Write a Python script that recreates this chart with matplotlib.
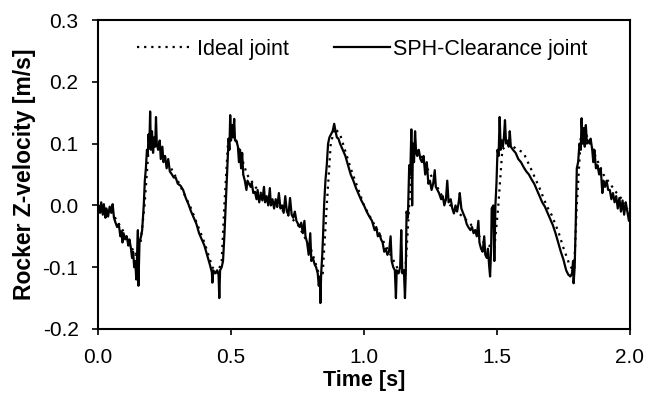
import matplotlib
matplotlib.use("Agg")
import matplotlib.pyplot as plt

plt.rcParams['font.family'] = ['Liberation Sans', 'DejaVu Sans']

# Ideal joint (smooth) time and velocity
ideal_t = [0.0, 0.05, 0.1, 0.14, 0.16, 0.175, 0.19, 0.2, 0.22, 0.25, 0.3, 0.35, 0.4, 0.43, 0.45,
           0.465, 0.475, 0.49, 0.5, 0.52, 0.56, 0.6, 0.65, 0.7, 0.75, 0.8, 0.83, 0.845, 0.86,
           0.875, 0.89, 0.91, 0.95, 1.0, 1.05, 1.1, 1.13, 1.155, 1.17, 1.185, 1.2, 1.25, 1.3,
           1.35, 1.4, 1.45, 1.49, 1.505, 1.52, 1.54, 1.6, 1.63, 1.66, 1.686, 1.706, 1.731,
           1.75, 1.775, 1.79, 1.8, 1.815, 1.83, 1.85, 1.9, 1.95, 2.0]
ideal_v = [0.0, -0.01, -0.045, -0.08, -0.06, 0.0, 0.09, 0.11, 0.1, 0.08, 0.04, -0.005, -0.06, -0.1,
           -0.11, -0.09, 0.0, 0.11, 0.12, 0.105, 0.05, 0.025, 0.005, -0.01, -0.03, -0.07, -0.11,
           -0.11, 0.0, 0.1, 0.125, 0.115, 0.06, 0.0, -0.04, -0.08, -0.105, -0.11, 0.0, 0.1, 0.09,
           0.05, 0.01, -0.01, -0.03, -0.06, -0.07, 0.0, 0.09, 0.1, 0.085, 0.057, 0.028, 0.0,
           -0.016, -0.043, -0.069, -0.099, -0.105, 0.0, 0.11, 0.12, 0.1, 0.05, 0.02, -0.005]

# SPH-Clearance joint (noisy) time and velocity
sph_t = [0.000, 0.008, 0.012, 0.018, 0.022, 0.028, 0.032, 0.038, 0.044, 0.050, 0.055, 0.060,
         0.066, 0.072, 0.078, 0.084, 0.088, 0.092, 0.096, 0.102, 0.108, 0.114, 0.118, 0.124,
         0.128, 0.132, 0.136, 0.140, 0.144, 0.147, 0.150, 0.152, 0.156, 0.162, 0.166, 0.172,
         0.176, 0.180, 0.184, 0.187, 0.190, 0.193, 0.196, 0.199, 0.203, 0.207, 0.211, 0.215,
         0.218, 0.221, 0.226, 0.232, 0.236, 0.242, 0.246, 0.252, 0.258, 0.264, 0.270, 0.278,
         0.285, 0.292, 0.300, 0.310, 0.320, 0.330, 0.340, 0.350, 0.360, 0.370, 0.380, 0.390,
         0.400, 0.410, 0.420, 0.428, 0.430, 0.433, 0.440, 0.448, 0.453, 0.456, 0.459, 0.465,
         0.470, 0.475, 0.480, 0.484, 0.488, 0.491, 0.494, 0.497, 0.500, 0.504, 0.508, 0.512,
         0.515, 0.520, 0.526, 0.530, 0.534, 0.538, 0.542, 0.546, 0.552, 0.558, 0.562, 0.568,
         0.574, 0.578, 0.584, 0.590, 0.596, 0.600, 0.606, 0.612, 0.618, 0.624, 0.628, 0.634,
         0.640, 0.646, 0.650, 0.656, 0.662, 0.668, 0.674, 0.680, 0.686, 0.692, 0.698, 0.704,
         0.710, 0.716, 0.722, 0.728, 0.734, 0.740, 0.746, 0.752, 0.758, 0.764, 0.770, 0.776,
         0.780, 0.786, 0.792, 0.798, 0.802, 0.808, 0.814, 0.820, 0.826, 0.830, 0.834, 0.836,
         0.839, 0.843, 0.846, 0.850, 0.855, 0.860, 0.865, 0.870, 0.876, 0.882, 0.888, 0.893,
         0.898, 0.904, 0.910, 0.920, 0.930, 0.940, 0.950, 0.960, 0.970, 0.980, 0.990, 1.000,
         1.010, 1.020, 1.030, 1.040, 1.046, 1.052, 1.058, 1.064, 1.070, 1.076, 1.082, 1.088,
         1.094, 1.100, 1.104, 1.110, 1.116, 1.120, 1.123, 1.130, 1.136, 1.140, 1.144, 1.150,
         1.154, 1.157, 1.160, 1.165, 1.170, 1.174, 1.178, 1.181, 1.184, 1.188, 1.192, 1.196,
         1.200, 1.206, 1.212, 1.218, 1.224, 1.230, 1.236, 1.242, 1.248, 1.254, 1.260, 1.266,
         1.270, 1.276, 1.282, 1.290, 1.296, 1.302, 1.308, 1.313, 1.318, 1.326, 1.332, 1.338,
         1.344, 1.350, 1.356, 1.360, 1.366, 1.373, 1.380, 1.386, 1.392, 1.400, 1.406, 1.412,
         1.418, 1.424, 1.430, 1.434, 1.440, 1.446, 1.452, 1.456, 1.462, 1.466, 1.470, 1.474,
         1.478, 1.480, 1.486, 1.490, 1.494, 1.498, 1.502, 1.506, 1.510, 1.514, 1.518, 1.522,
         1.526, 1.530, 1.534, 1.540, 1.544, 1.548, 1.552, 1.560, 1.570, 1.580, 1.590, 1.600,
         1.610, 1.620, 1.630, 1.640, 1.650, 1.660, 1.670, 1.680, 1.690, 1.700, 1.710, 1.720,
         1.730, 1.740, 1.750, 1.760, 1.768, 1.776, 1.782, 1.786, 1.788, 1.792, 1.796, 1.800,
         1.805, 1.810, 1.815, 1.818, 1.822, 1.826, 1.830, 1.834, 1.838, 1.842, 1.848, 1.852,
         1.858, 1.862, 1.866, 1.872, 1.878, 1.884, 1.890, 1.896, 1.900, 1.906, 1.912, 1.918,
         1.924, 1.930, 1.936, 1.942, 1.948, 1.954, 1.960, 1.966, 1.972, 1.978, 1.984, 1.990,
         1.996, 2.000]
sph_v = [0.000, -0.012, 0.005, -0.015, 0.002, -0.020, -0.005, -0.018, -0.002, -0.012, 0.002, -0.020,
         -0.028, -0.035, -0.030, -0.050, -0.042, -0.060, -0.045, -0.055, -0.050, -0.065, -0.055, -0.070,
         -0.085, -0.075, -0.100, -0.090, -0.120, -0.080, -0.040, -0.130, -0.060, -0.050, -0.040, 0.000,
         0.040, 0.060, 0.090, 0.080, 0.115, 0.095, 0.152, 0.090, 0.120, 0.085, 0.110, 0.095,
         0.143, 0.100, 0.090, 0.105, 0.075, 0.095, 0.070, 0.080, 0.060, 0.075, 0.055, 0.050,
         0.045, 0.045, 0.035, 0.032, 0.025, 0.012, 0.002, -0.010, -0.020, -0.030, -0.045, -0.055,
         -0.065, -0.080, -0.095, -0.108, -0.125, -0.105, -0.110, -0.105, -0.110, -0.150, -0.105, -0.100,
         -0.090, -0.050, 0.000, 0.040, 0.080, 0.108, 0.090, 0.146, 0.105, 0.130, 0.110, 0.140,
         0.105, 0.105, 0.095, 0.070, 0.090, 0.060, 0.085, 0.050, 0.040, 0.025, 0.040, 0.035,
         0.030, 0.036, 0.020, 0.022, 0.010, 0.025, 0.005, 0.018, 0.008, 0.030, 0.005, 0.015,
         0.000, 0.028, 0.000, 0.010, -0.005, 0.010, -0.002, 0.020, -0.005, 0.000, -0.012, 0.015,
         -0.010, -0.015, 0.012, -0.015, -0.020, -0.010, -0.025, -0.030, -0.035, -0.028, -0.045, -0.025,
         -0.050, -0.060, -0.080, -0.045, -0.090, -0.085, -0.095, -0.100, -0.110, -0.130, -0.115, -0.158,
         -0.110, -0.080, -0.050, 0.000, 0.040, 0.065, 0.100, 0.110, 0.115, 0.120, 0.132, 0.120,
         0.110, 0.108, 0.100, 0.090, 0.080, 0.065, 0.050, 0.040, 0.028, 0.018, 0.008, 0.000,
         -0.010, -0.018, -0.025, -0.040, -0.035, -0.050, -0.045, -0.055, -0.060, -0.075, -0.070, -0.080,
         -0.075, -0.050, -0.090, -0.100, -0.105, -0.150, -0.105, -0.110, -0.100, -0.040, -0.110, -0.105,
         -0.150, -0.110, -0.010, -0.020, 0.065, 0.050, 0.123, 0.000, 0.100, 0.070, 0.120, 0.085,
         0.080, 0.090, 0.075, 0.070, 0.080, 0.050, 0.070, 0.035, 0.040, 0.025, 0.035, 0.057,
         0.030, 0.025, 0.020, 0.010, 0.015, 0.000, 0.010, 0.040, 0.005, 0.010, -0.005, -0.013,
         0.000, -0.010, 0.005, 0.020, -0.005, -0.013, -0.020, -0.030, -0.035, -0.040, -0.035, -0.045,
         -0.040, -0.050, -0.025, -0.060, -0.070, -0.075, -0.050, -0.080, -0.085, -0.070, -0.095, -0.115,
         -0.070, -0.005, 0.000, -0.090, 0.000, 0.036, 0.090, 0.080, 0.143, 0.090, 0.105, 0.095,
         0.110, 0.138, 0.100, 0.105, 0.095, 0.120, 0.095, 0.090, 0.085, 0.075, 0.070, 0.062,
         0.055, 0.050, 0.042, 0.035, 0.025, 0.015, 0.005, -0.002, -0.012, -0.022, -0.032, -0.045,
         -0.060, -0.075, -0.088, -0.105, -0.112, -0.115, -0.110, -0.090, -0.126, -0.100, -0.030, 0.060,
         0.070, 0.100, 0.090, 0.141, 0.100, 0.125, 0.095, 0.130, 0.100, 0.105, 0.100, 0.108,
         0.090, 0.070, 0.090, 0.060, 0.065, 0.050, 0.060, 0.020, 0.040, 0.030, 0.040, 0.025,
         0.025, 0.010, 0.020, 0.005, 0.015, -0.005, 0.012, -0.010, 0.008, -0.015, 0.005, -0.010,
         -0.025, -0.010]

x_ticks = [0.0, 0.5, 1.0, 1.5, 2.0]
y_ticks = [-0.2, -0.1, 0.0, 0.1, 0.2, 0.3]

fig = plt.figure(figsize=(6.47, 4.08), dpi=100)
ax = fig.add_axes([98/647, 1 - 329/408, (630 - 98)/647, (329 - 20)/408])

ax.plot(ideal_t, ideal_v, color='black', linestyle=(0, (1, 2.2)), linewidth=1.6, label='Ideal joint')
ax.plot(sph_t, sph_v, color='black', linestyle='-', linewidth=1.6, label='SPH-Clearance joint')

ax.set_xlim(0, 2.0)
ax.set_ylim(-0.2, 0.3)
ax.set_xticks(x_ticks)
ax.set_yticks(y_ticks)
ax.set_xticklabels([f"{v:.1f}" for v in x_ticks], fontsize=15)
ax.set_yticklabels([f"{v:.1f}" for v in y_ticks], fontsize=15)
ax.tick_params(direction='out', length=4, width=1.2, colors='black')
ax.tick_params(axis='x', pad=10)
ax.tick_params(axis='y', pad=10)
for s in ax.spines.values():
    s.set_linewidth(1.5)
    s.set_color('black')

ax.set_xlabel('Time [s]', fontsize=15.5, fontweight='bold', labelpad=2)
ax.set_ylabel('Rocker Z-velocity [m/s]', fontsize=16.5, fontweight='bold', labelpad=5)

ax.legend(loc='upper left', ncol=2, frameon=False, fontsize=15.5, handlelength=2.6,
          columnspacing=2.1, handletextpad=0.15, borderaxespad=0,
          bbox_to_anchor=(0.058, 0.967))

fig.savefig('out.png', dpi=100)
